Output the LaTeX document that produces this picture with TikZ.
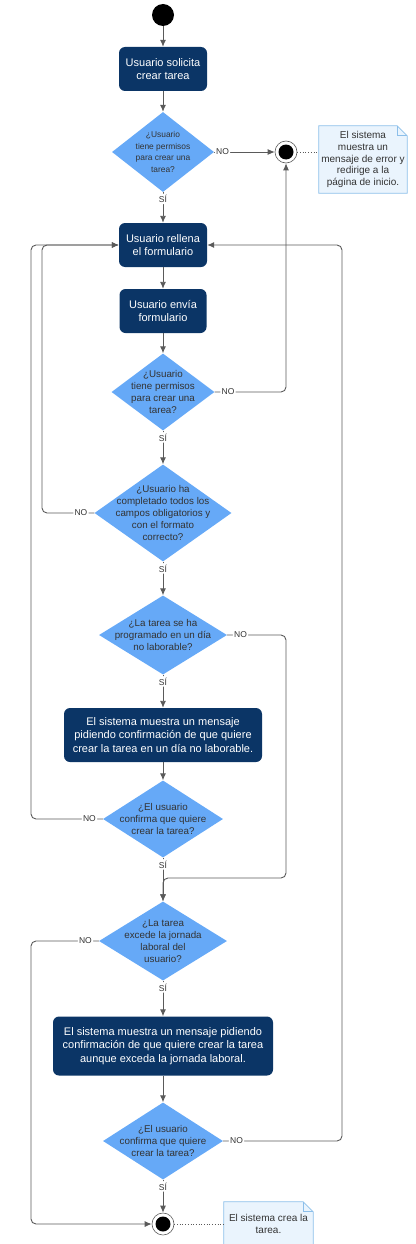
\documentclass[tikz,border=0pt]{standalone}
\usepackage{fontspec}
\setmainfont{Liberation Sans}
\usetikzlibrary{shapes.geometric,arrows.meta,backgrounds}

\definecolor{navy}{HTML}{0B3566}
\definecolor{skyblue}{HTML}{66A9F7}
\definecolor{notefill}{HTML}{EAF4FD}
\definecolor{noteline}{HTML}{8CBFEA}
\definecolor{linegray}{HTML}{5A5A5A}
\definecolor{textgray}{HTML}{333333}

\tikzset{
  action/.style={rectangle, rounded corners=6pt, fill=navy, text=white, inner sep=0pt,
    align=center, font=\fontsize{11}{13.5}\selectfont},
  decision/.style={diamond, fill=skyblue, text=textgray, inner sep=-20pt,
    align=center, font=\fontsize{9.8}{11.8}\selectfont},
  notebox/.style={rectangle, inner sep=0pt, text=textgray, align=center,
    font=\fontsize{10}{11.7}\selectfont},
  notepaper/.style={draw=noteline, fill=notefill, line width=0.8pt},
  flow/.style={draw=linegray, line width=0.9pt, rounded corners=5pt, -{Latex[length=7pt,width=6pt]}},
  lbl/.style={fill=white, text=textgray, inner sep=1.5pt, font=\fontsize{8.5}{10}\selectfont},
  noR/.style={lbl, anchor=west, xshift=5pt},
  noL/.style={lbl, anchor=east, xshift=-5pt},
  si/.style={lbl, anchor=north, yshift=-1pt},
  endmark/.style={circle, draw=linegray, line width=0.6pt, fill=white, minimum size=22pt, inner sep=0pt,
    path picture={\fill[black] (path picture bounding box.center) circle (7.5pt);}}
}

\begin{document}
\begin{tikzpicture}[x=1pt, y=-1pt]
  \useasboundingbox (0,0) rectangle (415,1244);

  % main column
  \node[circle, fill=black, minimum size=22pt, inner sep=0pt] (start) at (163,15) {};
  \node[action, minimum width=88pt, minimum height=44pt] (solicita) at (163,69) {Usuario solicita\\crear tarea};
  \node[decision, minimum width=102pt, minimum height=80pt, font=\fontsize{8.4}{11.6}\selectfont] (perm1) at (163,152) {¿Usuario\\tiene permisos\\para crear una\\tarea?};
  \node[action, minimum width=88pt, minimum height=44pt] (rellena) at (163,245) {Usuario rellena\\el formulario};
  \node[action, minimum width=87pt, minimum height=44pt] (envia) at (163,311) {Usuario envía\\formulario};
  \node[decision, minimum width=103pt, minimum height=77pt] (perm2) at (163,392) {¿Usuario\\tiene permisos\\para crear una\\tarea?};
  \node[decision, minimum width=137pt, minimum height=97pt] (campos) at (163,513) {¿Usuario ha\\completado todos los\\campos obligatorios y\\con el formato\\correcto?};
  \node[decision, minimum width=128pt, minimum height=79pt] (festivo) at (163,635) {¿La tarea se ha\\programado en un día\\no laborable?};
  \node[action, minimum width=198pt, minimum height=54pt] (msgdia) at (163,735) {El sistema muestra un mensaje\\pidiendo confirmación de que quiere\\crear la tarea en un día no laborable.};
  \node[decision, minimum width=120pt, minimum height=77pt] (conf1) at (163,819) {¿El usuario\\confirma que quiere\\crear la tarea?};
  \node[decision, minimum width=128pt, minimum height=79pt] (jornada) at (163,941) {¿La tarea\\excede la jornada\\laboral del\\usuario?};
  \node[action, minimum width=220pt, minimum height=59pt] (msgjor) at (163,1046) {El sistema muestra un mensaje pidiendo\\confirmación de que quiere crear la tarea\\aunque exceda la jornada laboral.};
  \node[decision, minimum width=120pt, minimum height=77pt] (conf2) at (163,1141) {¿El usuario\\confirma que quiere\\crear la tarea?};

  % end points and notes
  \node[endmark] (fin1) at (286,152) {};
  \node[endmark] (fin2) at (163,1224) {};
  \node[notebox, minimum width=88pt, minimum height=67pt] (nota1) at (363,159.5) {El sistema\\muestra un\\mensaje de error y\\redirige a la\\página de inicio.};
  \node[notebox, minimum width=89pt, minimum height=44pt] (nota2) at (268.5,1224) {El sistema crea la\\tarea.};
  \begin{scope}[on background layer]
    \foreach \n in {nota1,nota2} {
      \draw[notepaper] (\n.south west) -- (\n.north west) -- ([xshift=-10pt]\n.north east)
        -- ([yshift=-10pt]\n.north east) -- (\n.south east) -- cycle;
      \draw[noteline, line width=0.8pt] ([xshift=-10pt]\n.north east) |- ([yshift=-10pt]\n.north east);
    }
  \end{scope}
  \draw[linegray, dotted, line width=0.7pt] (fin1) -- (nota1.west |- fin1);
  \draw[linegray, dotted, line width=0.7pt] (fin2) -- (nota2.west |- fin2);

  % loop lanes
  \coordinate (outL) at (31,0);
  \coordinate (inL) at (42,0);
  \coordinate (midR) at (286,878);
  \coordinate (outR) at (342,0);

  % straight flow
  \draw[flow] (start) -- (solicita);
  \draw[flow] (solicita) -- (perm1);
  \draw[flow] (perm1) -- node[si, at start] (si1) {SÍ} (rellena);
  \draw[flow] (rellena) -- (envia);
  \draw[flow] (envia) -- (perm2);
  \draw[flow] (perm2) -- node[si, at start] (si2) {SÍ} (campos);
  \draw[flow] (campos) -- node[si, at start] (si3) {SÍ} (festivo);
  \draw[flow] (festivo) -- node[si, at start] (si4) {SÍ} (msgdia);
  \draw[flow] (msgdia) -- (conf1);
  \draw[flow] (conf1) -- node[si, at start] (si5) {SÍ} (jornada);
  \draw[flow] (jornada) -- node[si, at start] (si6) {SÍ} (msgjor);
  \draw[flow] (msgjor) -- (conf2);
  \draw[flow] (conf2) -- node[si, at start] (si7) {SÍ} (fin2);

  % NO branches
  \draw[flow] (perm1.east) -- node[noR, xshift=-5pt, at start] (no1) {NO} (fin1);
  \draw[flow] (perm2.east) -- node[noR, at start] (no2) {NO} (perm2.east -| fin1) -- (fin1);
  \draw[flow] (campos.west) -- node[noL, at start] (no3) {NO} (campos.west -| inL) |- (rellena.west);
  \draw[flow] (festivo.east) -- node[noR, at start] (no4) {NO} (festivo.east -| midR) -- (midR) -| (jornada.north);
  \draw[flow] (conf1.west) -- node[noL, at start] (no5) {NO} (conf1.west -| outL) |- (rellena.west);
  \draw[flow] (jornada.west) -- node[noL, at start] (no6) {NO} (jornada.west -| outL) |- (fin2);
  \draw[flow] (conf2.east) -- node[noR, at start] (no7) {NO} (conf2.east -| outR) |- (rellena.east);
\end{tikzpicture}
\end{document}
